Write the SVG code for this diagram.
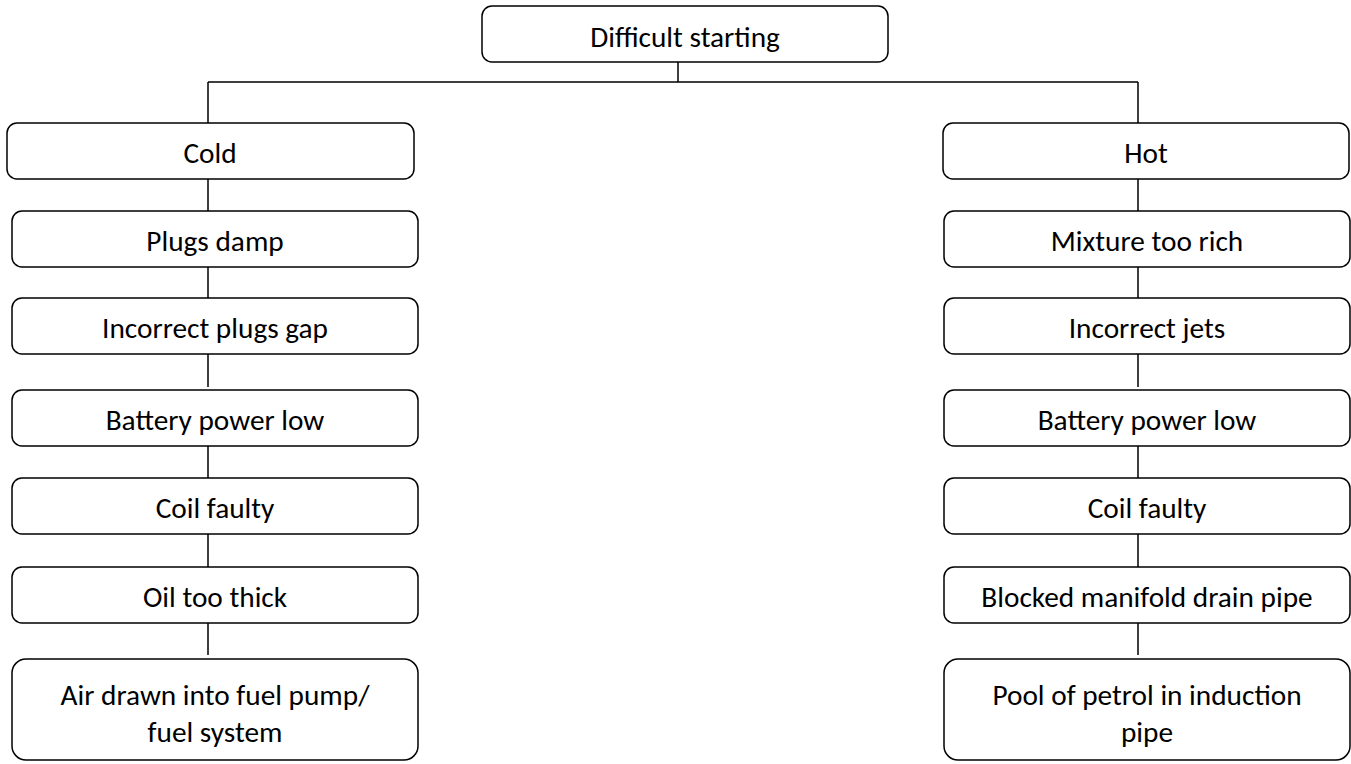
<svg xmlns="http://www.w3.org/2000/svg" width="1351" height="764" viewBox="0 0 1351 764">
<style>
.box{fill:#fff;stroke:#000;stroke-width:1.5}
.lbl{font-family:Carlito,Lato,"Liberation Sans",sans-serif;font-size:29.3px;fill:#000;text-anchor:middle}
.con{stroke:#000;stroke-width:1.5;fill:none}
</style>
<rect width="1351" height="764" fill="#fff"/>
<g id="connectors">
<path class="con" d="M678,62V82M208,82H1138M208,82V123M1138,82V123"/>
<path class="con" d="M208,179V211M208,267V298M208,354V387M208,446V478M208,534V567M208,623V655"/>
<path class="con" d="M1138,179V211M1138,267V298M1138,354V387M1138,446V478M1138,534V567M1138,623V655"/>
</g>
<g id="n-root"><rect class="box" x="482" y="6" width="406" height="56" rx="10"/><text class="lbl" x="685" y="47">Difficult starting</text></g>
<g id="n-cold"><rect class="box" x="7" y="123" width="407" height="56" rx="10"/><text class="lbl" x="210" y="163">Cold</text></g>
<g id="n-plugs"><rect class="box" x="12" y="211" width="406" height="56" rx="10"/><text class="lbl" x="215" y="251">Plugs damp</text></g>
<g id="n-gap"><rect class="box" x="12" y="298" width="406" height="56" rx="10"/><text class="lbl" x="215" y="338">Incorrect plugs gap</text></g>
<g id="n-batt-l"><rect class="box" x="12" y="390" width="406" height="56" rx="10"/><text class="lbl" x="215" y="430">Battery power low</text></g>
<g id="n-coil-l"><rect class="box" x="12" y="478" width="406" height="56" rx="10"/><text class="lbl" x="215" y="518">Coil faulty</text></g>
<g id="n-oil"><rect class="box" x="12" y="567" width="406" height="56" rx="10"/><text class="lbl" x="215" y="607">Oil too thick</text></g>
<g id="n-air"><rect class="box" x="12" y="659" width="406" height="101" rx="14"/><text class="lbl" x="215" y="705">Air drawn into fuel pump/</text><text class="lbl" x="215" y="742">fuel system</text></g>
<g id="n-hot"><rect class="box" x="943" y="123" width="406" height="56" rx="10"/><text class="lbl" x="1146" y="163">Hot</text></g>
<g id="n-rich"><rect class="box" x="944" y="211" width="406" height="56" rx="10"/><text class="lbl" x="1147" y="251">Mixture too rich</text></g>
<g id="n-jets"><rect class="box" x="944" y="298" width="406" height="56" rx="10"/><text class="lbl" x="1147" y="338">Incorrect jets</text></g>
<g id="n-batt-r"><rect class="box" x="944" y="390" width="406" height="56" rx="10"/><text class="lbl" x="1147" y="430">Battery power low</text></g>
<g id="n-coil-r"><rect class="box" x="944" y="478" width="406" height="56" rx="10"/><text class="lbl" x="1147" y="518">Coil faulty</text></g>
<g id="n-drain"><rect class="box" x="944" y="567" width="406" height="56" rx="10"/><text class="lbl" x="1147" y="607">Blocked manifold drain pipe</text></g>
<g id="n-pool"><rect class="box" x="944" y="659" width="406" height="101" rx="14"/><text class="lbl" x="1147" y="705">Pool of petrol in induction</text><text class="lbl" x="1147" y="742">pipe</text></g>
</svg>
